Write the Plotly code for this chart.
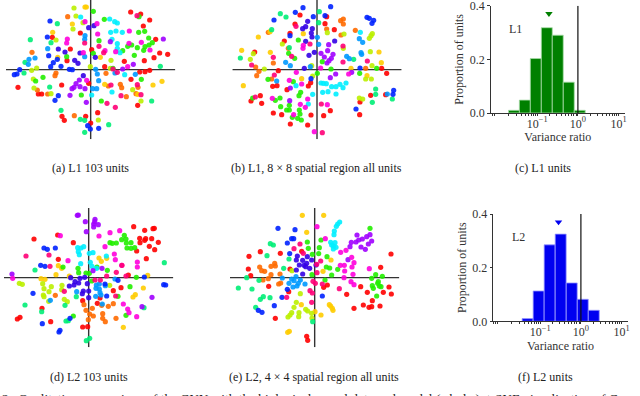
import numpy as np
import plotly.graph_objects as go

# t-SNE embeddings, one list of (x, y) per unit colour
a_red = [(120,173),(150,167),(177,149),(158,131),(-31,110),(-115,97),(195,91),(-61,62),(3,60),(207,50),(231,46),(190,36),(161,27),(101,25),(-71,27),(42,9),(147,-7),(163,-6),(177,-2),(121,-29),(-218,-53),(-87,-46),(-157,-73),(-147,-73),(141,-107),(21,-129),(-86,-140),(-79,-152),(-15,-140),(0,-160),(-6,-41)]
a_orange = [(-69,159),(-176,52),(-104,-10),(-107,-18),(46,-11),(89,-44),(93,-54),(-160,-61),(-129,-73),(107,-81),(136,-72),(142,-53),(-49,-138),(53,-49)]
a_amber = [(-17,188),(-13,188),(-55,137),(-114,112),(29,37),(42,-44),(187,-46),(214,-35),(-99,37),(141,-74)]
a_lime = [(-50,185),(-44,161),(-53,122),(-104,89),(-23,141),(61,28),(-162,5),(-177,-2),(-172,-28),(-170,-55),(-119,-72),(126,-60),(151,-94),(23,-151),(-1,9),(59,4)]
a_green = [(8,175),(41,151),(145,159),(144,112),(162,115),(174,95),(185,81),(175,74),(163,69),(159,58),(140,66),(123,74),(111,70),(96,57),(131,43),(25,87),(8,49),(-72,39),(-165,-34),(-143,-23),(152,-29),(-28,-76),(32,-94),(67,4)]
a_mint = [(-100,138),(-181,90),(-119,81),(-200,-10),(-197,22),(-123,-52),(-89,-122),(-31,-149),(-18,-152),(54,-165),(-18,-188),(183,-94),(209,10)]
a_cyan = [(-30,158),(57,152),(72,144),(80,140),(60,112),(76,116),(95,112),(64,91),(80,78),(80,64),(88,51),(102,-15),(64,-67),(3,-76)]
a_azure = [(-17,102),(-18,91),(-129,63),(-18,39),(-167,35),(-185,31),(-187,16),(15,1),(20,-13),(73,-10),(134,-14),(24,-33),(6,-57),(18,-57)]
a_blue = [(-122,146),(-130,98),(-126,42),(-100,31),(-112,21),(-120,9),(-89,10),(-213,0),(-221,-13),(-229,-15),(-64,1),(-55,0),(-97,-78),(-107,-92),(24,-176),(-1,-178),(-9,-168)]
a_indigo = [(-6,126),(10,132),(-97,62),(-77,53),(-32,50),(-48,28),(-38,19),(14,37),(-22,-18)]
a_violet = [(218,92),(59,84),(128,16),(96,2),(-34,-31),(-44,-42),(-50,-53),(-56,-57),(-32,-51),(-17,-57),(-62,-77),(-13,-98)]
a_magenta = [(-17,144),(19,138),(21,107),(116,116),(-70,92),(-72,80),(115,79),(152,82),(178,59),(75,54),(-22,51),(43,57),(111,9),(-12,-32)]
a_pink = [(139,162),(-18,80),(25,70),(39,51),(67,2),(80,-8),(61,-46),(140,-45),(91,-78),(151,-75),(49,-101),(74,-113)]

b_red = [(-51,164),(29,159),(24,138),(-66,137),(52,120),(-81,109),(-98,86),(-187,53),(-116,-3),(194,4),(209,-11),(-19,-39),(-133,-50),(-120,-48),(-90,-60),(-26,-49),(-170,-78),(-198,-94),(-166,-101),(161,-77),(206,-75),(129,-97),(40,-123),(20,-138),(-18,-136),(-131,-130),(-106,-135),(-80,-163),(-28,-166),(128,-135)]
b_orange = [(79,152),(71,147),(79,137),(29,122),(72,104),(115,118),(-146,112),(-184,8),(-174,-5),(-181,-18),(-136,-28),(-131,20),(146,4),(-86,64)]
b_amber = [(-176,98),(-226,58),(-140,52),(-41,108),(186,53),(193,21),(102,4),(150,-18),(-221,-48),(-46,-27),(-141,114)]
b_lime = [(31,111),(81,107),(166,108),(162,102),(157,94),(-104,77),(-191,48),(-200,31),(160,54),(-158,2),(165,12),(146,-28),(163,-28),(127,-85),(137,-88),(-16,12),(-13,-19),(79,64)]
b_green = [(-56,89),(-85,49),(-67,34),(16,24),(42,2),(1,-11),(128,-11),(179,4),(-147,-29),(-71,-36),(-49,-68),(-54,-78),(-111,-85),(-125,-92),(-83,-107),(-109,-111),(-83,-121),(-91,-121),(-53,-121),(-51,-133),(-74,-143),(-58,-146),(-47,-151),(-193,-85)]
b_mint = [(-110,168),(-93,158),(7,174),(5,141),(-136,120),(-83,66),(-230,35),(110,31),(176,-58),(176,-74),(166,-98),(226,-88)]
b_cyan = [(130,112),(-63,-48),(12,-40),(19,-41),(28,-42),(17,-68),(33,-66),(44,-51),(57,-51),(69,-44),(87,-40),(78,-54),(57,-73),(-13,-74),(-26,-103)]
b_azure = [(1,97),(5,76),(127,93),(137,82),(132,51),(134,46),(89,40),(97,33),(-94,22),(-80,12),(-121,-34),(-20,9),(211,-73)]
b_blue = [(-42,186),(41,189),(-65,172),(-11,159),(24,162),(-129,149),(150,157),(157,154),(170,148),(165,139),(129,5),(-18,-27),(230,-62),(228,-74),(117,-118),(-81,102)]
b_indigo = [(-28,145),(-34,129),(-43,123),(-14,123),(-17,110),(-15,98),(53,86),(-34,85),(-24,43),(-8,52),(-38,4)]
b_violet = [(35,75),(32,57),(12,49),(22,38),(48,46),(43,34),(36,27),(30,20),(56,-13),(40,-24),(-80,-55),(-82,-93),(104,-8)]
b_magenta = [(-8,-186),(-41,73),(-42,64),(11,5),(-62,-8),(-83,-32),(-46,-43),(-134,-86),(-28,-88),(-50,-104),(-35,-113),(31,-105),(-70,-135),(95,-13)]
b_pink = [(-63,130),(-21,77),(78,71),(-131,37),(-76,40),(78,23),(151,26),(-196,14),(-128,-16),(-185,-82),(13,-103),(16,-189)]

d_red = [(135,153),(168,142),(193,147),(197,148),(-164,116),(-93,128),(-46,105),(153,118),(171,117),(189,117),(168,112),(154,105),(209,106),(182,94),(198,84),(144,80),(173,57),(-91,55),(119,8),(97,-30),(74,-39),(34,-61),(26,-77),(-18,-69),(-140,-92),(-206,-119),(-214,-124),(-114,-132),(-18,-148),(-3,-147)]
d_orange = [(-100,-53),(-14,-81),(11,-92),(-8,-98),(39,-83),(59,-86),(74,-78),(3,-109),(14,-115),(42,-108),(42,-122),(50,-132),(82,-122),(-1,-126)]
d_amber = [(31,59),(38,49),(54,58),(-91,36),(-81,28),(-98,9),(-143,-3),(-131,-5),(177,7),(164,-31),(140,-51),(133,-58),(104,-149),(-58,5)]
d_lime = [(-208,-17),(-199,-20),(-138,-18),(-134,-33),(-112,-27),(-119,-42),(-136,-52),(-134,-57),(-80,-23),(-81,-36),(-73,-65),(-64,-72),(-120,-71),(63,-23)]
d_green = [(107,127),(99,114),(112,116),(64,105),(71,103),(83,104),(113,104),(127,105),(115,89),(127,88),(138,90),(-77,32),(-32,28),(-30,15),(-8,14),(2,13),(25,32),(56,22),(9,-10),(143,1),(124,-27),(88,-56),(112,-113),(-46,-115)]
d_mint = [(227,45),(-161,23),(-37,-57),(-191,-82),(-71,-83),(-141,-102),(-68,-130),(-61,-129),(166,-90),(-7,-189),(3,-182)]
d_cyan = [(-33,90),(-23,89),(-15,93),(-31,78),(-28,69),(2,73),(13,75),(53,65),(-24,42),(5,46),(10,34),(24,28)]
d_azure = [(23,-22),(32,-19),(50,-24),(22,-32),(32,-34),(34,-45),(-36,-42),(21,-56),(-115,-68),(79,-4),(41,-79),(37,-52)]
d_blue = [(-134,89),(-124,85),(-100,89),(-144,37),(-131,34),(-167,-47),(88,-8),(167,2),(225,-21),(231,-22),(54,-55),(-56,-122),(-139,-138),(-89,-163),(-86,-158),(49,-19)]
d_indigo = [(-54,0),(-12,1),(-26,-2),(-41,-12),(-30,-16),(-44,-22),(-58,-25),(-4,-18),(-16,-40),(-19,-48),(0,-40),(0,-60)]
d_violet = [(-31,188),(-34,187),(19,175),(-10,168),(29,159),(15,161),(18,168),(15,152),(-7,138),(-230,11),(13,21),(40,28),(190,-59),(160,-87)]
d_magenta = [(-85,126),(31,125),(64,135),(93,141),(49,93),(77,71),(80,54),(-62,51),(146,47),(146,32),(99,37),(-228,-2),(104,-79),(117,-94),(121,-105),(144,-117)]
d_pink = [(-188,65),(-119,68),(-116,34),(83,16),(54,5),(19,-7),(35,-7),(-73,-41),(81,-55),(112,5),(100,37)]

e_red = [(229,71),(-197,64),(-163,78),(-103,73),(-39,79),(-199,26),(-192,6),(-74,26),(198,31),(-138,-26),(-78,-42),(27,-29),(38,-22),(96,-50),(138,-27),(158,-44),(206,-44),(223,-28),(230,-49),(173,-69),(146,-82),(163,-89),(171,-87),(196,-85),(118,-92),(-118,-122),(-24,-176),(-21,-188)]
e_orange = [(-165,32),(-159,21),(-150,19),(-131,34),(-120,43),(-118,35),(-131,9),(-139,-3),(-155,-7),(-104,11),(-108,-19),(-102,-16)]
e_amber = [(-37,187),(27,187),(-24,136),(49,53),(25,19),(-40,-81),(44,-81),(48,-85),(53,-92),(55,-98),(19,-112),(1,-102),(-76,-161),(-81,-164)]
e_lime = [(-43,-48),(-55,-74),(-62,-89),(-27,-95),(-21,-100),(-69,-105),(-74,-112),(-80,-118),(-47,-105),(-48,-117),(-9,-107),(-8,-121),(-68,21)]
e_green = [(166,148),(-22,107),(19,113),(-19,88),(14,90),(-7,70),(12,72),(37,63),(35,32),(45,29),(69,25),(51,8),(31,-7),(-8,9),(183,9),(203,4),(171,-2),(189,-17),(191,-12),(194,-25),(173,-24),(176,-32),(186,-55),(199,-27)]
e_mint = [(-133,102),(-124,98),(-143,66),(-77,56),(-93,28),(-167,-8),(-204,0),(-229,-31),(-188,-34),(-154,-57),(-163,-65),(-134,-60),(-177,-89),(-6,-132)]
e_cyan = [(75,167),(69,161),(65,154),(59,140),(58,129),(48,106),(61,105),(56,95),(51,98),(64,91),(56,86)]
e_azure = [(-97,-1),(-56,3),(-43,-7),(-62,-9),(-77,-17),(-49,-17),(-29,-19),(-53,-25),(-65,-28),(-69,-4)]
e_blue = [(-110,148),(-59,144),(-69,117),(-63,117),(-82,104),(-75,72),(-98,-59),(-82,-35),(23,-55),(-121,-84),(-169,-98),(-158,-104)]
e_indigo = [(-52,65),(-55,53),(-22,63),(-36,52),(-46,38),(-24,43),(-32,37),(-9,53),(-27,33),(-15,28),(-55,23),(-36,11),(4,38)]
e_violet = [(127,128),(110,106),(106,93),(132,113),(124,107),(143,116),(156,123),(166,129),(171,110),(161,101),(139,92),(152,85),(100,54)]
e_magenta = [(7,153),(32,117),(78,76),(94,82),(111,61),(118,45),(77,37),(89,37),(112,32),(90,20),(164,27),(115,10),(88,0),(109,-12),(118,-21)]
e_pink = [(-44,101),(-62,87),(-34,73),(18,50),(6,40),(7,15),(-5,-11),(2,-17),(23,-19),(74,-33),(-14,-39),(-7,-46),(-9,-74),(-84,-59)]

# histogram bars: log10 of variance ratio at bar centre, proportion of units
l1_centers = [-1.574, -1.307, -1.037, -0.766, -0.496, -0.225, 0.045]
l1_props = [0.01, 0.048, 0.203, 0.318, 0.29, 0.115, 0.01]
l1_mean = -0.713
l2_centers = [-1.313, -1.041, -0.770, -0.498, -0.226, 0.046, 0.317]
l2_props = [0.01, 0.113, 0.285, 0.325, 0.143, 0.082, 0.041]
l2_mean = -0.551
bar_width = 0.27

captions = ["(a) L1 103 units", "(b) L1, 8 × 8 spatial region all units", "(c) L1 units",
            "(d) L2 103 units", "(e) L2, 4 × 4 spatial region all units", "(f) L2 units"]
footer = "2.  Qualitative comparison of the CNN with the biological neural data and model (a,b,d,e): t-SNE visualization of C"

W, H = 640, 396
FONT = "Liberation Serif"
FS = 12
colors = ["#ff0000", "#ff6a00", "#ffcc00", "#bbf000", "#22ee00", "#00ee77",
          "#00eeff", "#0099ff", "#0022ff", "#3300e6", "#a000ff", "#ff00dd", "#ff0077"]
panel_a = [a_red, a_orange, a_amber, a_lime, a_green, a_mint, a_cyan, a_azure, a_blue, a_indigo, a_violet, a_magenta, a_pink]
panel_b = [b_red, b_orange, b_amber, b_lime, b_green, b_mint, b_cyan, b_azure, b_blue, b_indigo, b_violet, b_magenta, b_pink]
panel_d = [d_red, d_orange, d_amber, d_lime, d_green, d_mint, d_cyan, d_azure, d_blue, d_indigo, d_violet, d_magenta, d_pink]
panel_e = [e_red, e_orange, e_amber, e_lime, e_green, e_mint, e_cyan, e_azure, e_blue, e_indigo, e_violet, e_magenta, e_pink]


def dom_x(p0, p1):
    return [p0 / W, p1 / W]


def dom_y(p0, p1):
    # pixel rows from the top
    return [1 - p1 / H, 1 - p0 / H]


fig = go.Figure()


def add_scatter(n, groups, cx, cy):
    half_w, half_h = 254, 209
    ax = dict(visible=False, range=[-half_w, half_w], fixedrange=True, automargin=False)
    fig.update_layout({
        f"xaxis{n}": dict(ax, domain=dom_x(cx - half_w / 3, cx + half_w / 3), anchor=f"y{n}"),
        f"yaxis{n}": dict(ax, range=[-half_h, half_h], domain=dom_y(cy - half_h / 3, cy + half_h / 3), anchor=f"x{n}"),
    })
    line = dict(color="#333333", width=1.4)
    fig.add_trace(go.Scatter(x=[-half_w, half_w], y=[0, 0], mode="lines", line=line, xaxis=f"x{n}", yaxis=f"y{n}"))
    fig.add_trace(go.Scatter(x=[0, 0], y=[-half_h, half_h], mode="lines", line=line, xaxis=f"x{n}", yaxis=f"y{n}"))
    for pts, col in zip(groups, colors):
        fig.add_trace(go.Scatter(x=[p[0] for p in pts], y=[p[1] for p in pts], mode="markers",
                                 marker=dict(color=col, size=5.2, opacity=0.9, line=dict(width=0)),
                                 xaxis=f"x{n}", yaxis=f"y{n}", cliponaxis=False))


def add_hist(n, centers, props, mean, col, edge, name, left, right, x0_px, y0_px, y4_px):
    # x0_px is where 10^-1 falls, one decade is 40.6 px
    decade = 40.6
    minors = [np.log10(m * 10.0 ** d) for d in (-3, -2, -1, 0, 1) for m in range(2, 10)]
    rng_x = [-1 + (left - x0_px) / decade, -1 + (right - x0_px) / decade]
    minors = [m for m in minors if rng_x[0] <= m <= rng_x[1]]
    fig.update_layout({
        f"xaxis{n}": dict(domain=dom_x(left, right), anchor=f"y{n}", range=rng_x, fixedrange=True, automargin=False,
                          showgrid=False, zeroline=False, showline=True, linecolor="#333333", linewidth=1.2,
                          tickmode="array", tickvals=[-1, 0, 1],
                          ticktext=["10<sup>−1</sup>", "10<sup>0</sup>", "10<sup>1</sup>"],
                          ticks="outside", ticklen=2, tickwidth=0.8, tickcolor="#333333",
                          ticklabeloverflow="allow", ticklabelstandoff=-3,
                          minor=dict(tickmode="array", tickvals=minors, ticks="outside", ticklen=1.5,
                                     tickwidth=0.6, tickcolor="#333333", showgrid=False),
                          tickfont=dict(family=FONT, size=FS, color="#333333"),
                          title=dict(text="Variance ratio", font=dict(family=FONT, size=FS, color="#333333"), standoff=0)),
        f"yaxis{n}": dict(domain=dom_y(y4_px, y0_px), anchor=f"x{n}", range=[0, 0.4], fixedrange=True, automargin=False,
                          showgrid=False, zeroline=False, showline=True, linecolor="#333333", linewidth=1.2,
                          tickmode="array", tickvals=[0, 0.2, 0.4], ticktext=["0.0", "0.2", "0.4"],
                          ticks="outside", ticklen=2.5, tickwidth=0.8, tickcolor="#333333",
                          ticklabeloverflow="allow",
                          tickfont=dict(family=FONT, size=FS, color="#333333"),
                          title=dict(text="Proportion of units", font=dict(family=FONT, size=FS, color="#333333"), standoff=3)),
    })
    fig.add_trace(go.Bar(x=centers, y=props, width=bar_width, marker=dict(color=col, line=dict(color=edge, width=0.8)),
                         xaxis=f"x{n}", yaxis=f"y{n}"))
    fig.add_trace(go.Scatter(x=[0, 0], y=[0, 0.4], mode="lines", line=dict(color="#111111", width=1.2),
                             xaxis=f"x{n}", yaxis=f"y{n}"))
    fig.add_trace(go.Scatter(x=[mean], y=[0.37], mode="markers", marker=dict(symbol="triangle-down", color=col, size=6.5),
                             xaxis=f"x{n}", yaxis=f"y{n}", cliponaxis=False))
    fig.add_annotation(x=-1.53, y=0.313, xref=f"x{n}", yref=f"y{n}", text=name, showarrow=False,
                       font=dict(family=FONT, size=FS, color="#333333"))


add_scatter(1, panel_a, 90.67, 69.67)
add_scatter(2, panel_b, 317, 69.67)
add_hist(3, l1_centers, l1_props, l1_mean, "#008000", "#a8dca8", "L1", 490.7, 625, 537.3, 113, 5.7)
add_scatter(4, panel_d, 88.67, 277.67)
add_scatter(5, panel_e, 314.67, 277.67)
add_hist(6, l2_centers, l2_props, l2_mean, "#0000f0", "#9a9aff", "L2", 493.3, 627.7, 540.3, 321.3, 214)

cap_pos = [(90.7, 168), (316.7, 168), (543, 168), (89, 376.7), (314, 376.7), (545.3, 376.7)]
for text, (px, py) in zip(captions, cap_pos):
    fig.add_annotation(x=px / W, y=1 - py / H, xref="paper", yref="paper", xanchor="center", yanchor="middle",
                       text=text, showarrow=False, font=dict(family=FONT, size=FS, color="#222222"))
fig.add_annotation(x=0, y=1 - 398.5 / H, xref="paper", yref="paper", xanchor="left", text=footer, showarrow=False,
                   font=dict(family=FONT, size=13.3, color="#222222"), yanchor="middle")

fig.update_layout(width=W, height=H, margin=dict(l=0, r=0, t=0, b=0), showlegend=False,
                  paper_bgcolor="white", plot_bgcolor="white", template="none")
fig.write_html("out.html", config={"displayModeBar": False},
               post_script="document.body.style.margin='0';document.documentElement.style.overflow='hidden';")
